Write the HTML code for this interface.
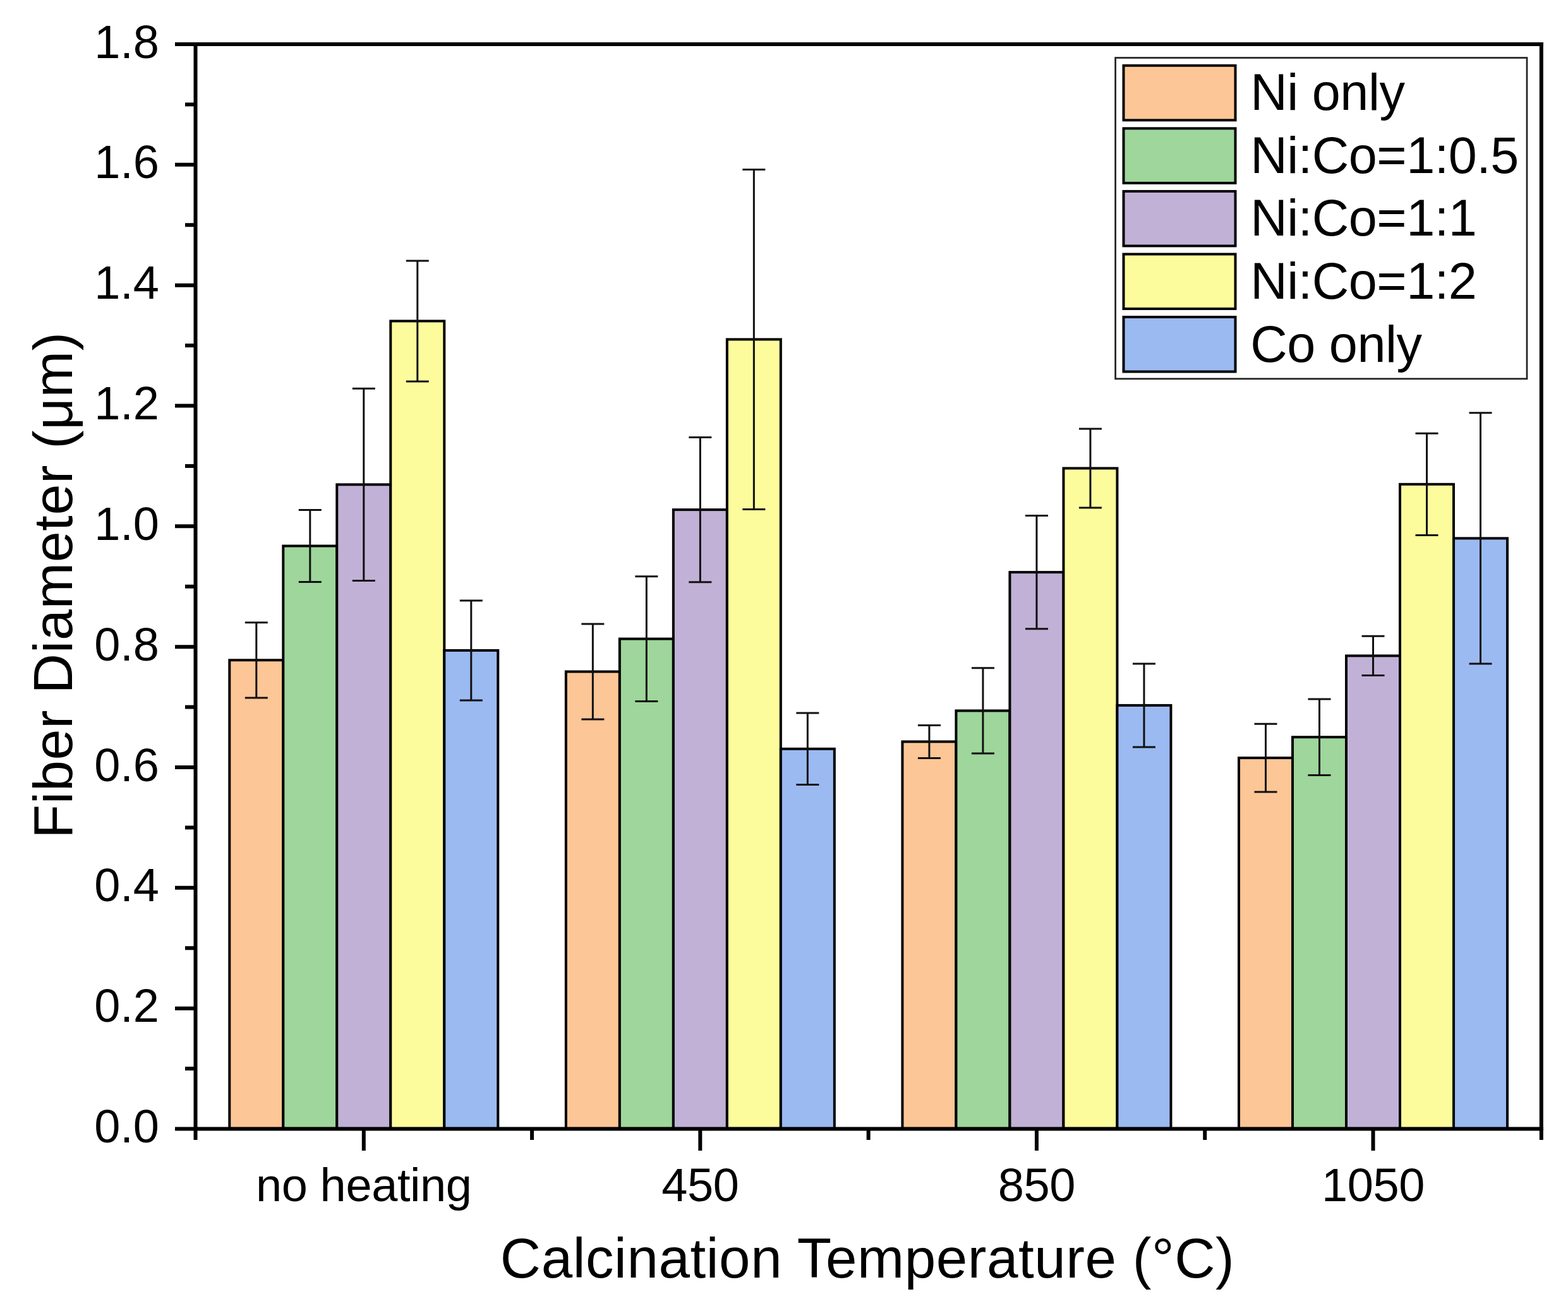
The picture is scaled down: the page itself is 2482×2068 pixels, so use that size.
<!DOCTYPE html>
<html><head><meta charset="utf-8"><title>Fiber Diameter vs Calcination Temperature</title>
<style>html,body{margin:0;padding:0;background:#fff;}body{width:2482px;height:2068px;overflow:hidden;}svg{display:block;} text{font-family:'Liberation Sans', Arial, Helvetica, sans-serif;fill:#000;}</style>
</head><body>
<svg width="2482" height="2068" viewBox="0 0 2482 2068">
<rect x="0" y="0" width="2482" height="2068" fill="#fff"/>
<g id="bars">
<rect x="363.29" y="1045.30" width="85.00" height="742.20" fill="#FCC696" stroke="#000" stroke-width="4.0"/>
<rect x="448.29" y="864.50" width="85.00" height="923.00" fill="#9ED69B" stroke="#000" stroke-width="4.0"/>
<rect x="533.29" y="767.30" width="85.00" height="1020.20" fill="#C1B1D6" stroke="#000" stroke-width="4.0"/>
<rect x="618.29" y="508.40" width="85.00" height="1279.10" fill="#FDFC9D" stroke="#000" stroke-width="4.0"/>
<rect x="703.29" y="1029.90" width="85.00" height="757.60" fill="#9BBAF1" stroke="#000" stroke-width="4.0"/>
<rect x="895.86" y="1063.50" width="85.00" height="724.00" fill="#FCC696" stroke="#000" stroke-width="4.0"/>
<rect x="980.86" y="1011.60" width="85.00" height="775.90" fill="#9ED69B" stroke="#000" stroke-width="4.0"/>
<rect x="1065.86" y="807.10" width="85.00" height="980.40" fill="#C1B1D6" stroke="#000" stroke-width="4.0"/>
<rect x="1150.86" y="537.40" width="85.00" height="1250.10" fill="#FDFC9D" stroke="#000" stroke-width="4.0"/>
<rect x="1235.86" y="1185.80" width="85.00" height="601.70" fill="#9BBAF1" stroke="#000" stroke-width="4.0"/>
<rect x="1428.44" y="1174.40" width="85.00" height="613.10" fill="#FCC696" stroke="#000" stroke-width="4.0"/>
<rect x="1513.44" y="1125.40" width="85.00" height="662.10" fill="#9ED69B" stroke="#000" stroke-width="4.0"/>
<rect x="1598.44" y="906.10" width="85.00" height="881.40" fill="#C1B1D6" stroke="#000" stroke-width="4.0"/>
<rect x="1683.44" y="741.50" width="85.00" height="1046.00" fill="#FDFC9D" stroke="#000" stroke-width="4.0"/>
<rect x="1768.44" y="1116.90" width="85.00" height="670.60" fill="#9BBAF1" stroke="#000" stroke-width="4.0"/>
<rect x="1961.01" y="1200.10" width="85.00" height="587.40" fill="#FCC696" stroke="#000" stroke-width="4.0"/>
<rect x="2046.01" y="1167.20" width="85.00" height="620.30" fill="#9ED69B" stroke="#000" stroke-width="4.0"/>
<rect x="2131.01" y="1038.40" width="85.00" height="749.10" fill="#C1B1D6" stroke="#000" stroke-width="4.0"/>
<rect x="2216.01" y="766.80" width="85.00" height="1020.70" fill="#FDFC9D" stroke="#000" stroke-width="4.0"/>
<rect x="2301.01" y="852.40" width="85.00" height="935.10" fill="#9BBAF1" stroke="#000" stroke-width="4.0"/>
</g>
<g id="err" stroke="#111" stroke-width="3.0" fill="none">
<path d="M405.79 985.65V1104.95M387.79 985.65H423.79M387.79 1104.95H423.79"/>
<path d="M490.79 807.45V921.55M472.79 807.45H508.79M472.79 921.55H508.79"/>
<path d="M575.79 615.15V919.45M557.79 615.15H593.79M557.79 919.45H593.79"/>
<path d="M660.79 412.90V603.90M642.79 412.90H678.79M642.79 603.90H678.79"/>
<path d="M745.79 950.90V1108.90M727.79 950.90H763.79M727.79 1108.90H763.79"/>
<path d="M938.36 988.10V1138.90M920.36 988.10H956.36M920.36 1138.90H956.36"/>
<path d="M1023.36 912.80V1110.40M1005.36 912.80H1041.36M1005.36 1110.40H1041.36"/>
<path d="M1108.36 692.40V921.80M1090.36 692.40H1126.36M1090.36 921.80H1126.36"/>
<path d="M1193.36 268.40V806.40M1175.36 268.40H1211.36M1175.36 806.40H1211.36"/>
<path d="M1278.36 1129.10V1242.50M1260.36 1129.10H1296.36M1260.36 1242.50H1296.36"/>
<path d="M1470.94 1148.40V1200.40M1452.94 1148.40H1488.94M1452.94 1200.40H1488.94"/>
<path d="M1555.94 1057.75V1193.05M1537.94 1057.75H1573.94M1537.94 1193.05H1573.94"/>
<path d="M1640.94 816.45V995.75M1622.94 816.45H1658.94M1622.94 995.75H1658.94"/>
<path d="M1725.94 678.95V804.05M1707.94 678.95H1743.94M1707.94 804.05H1743.94"/>
<path d="M1810.94 1050.90V1182.90M1792.94 1050.90H1828.94M1792.94 1182.90H1828.94"/>
<path d="M2003.51 1146.30V1253.90M1985.51 1146.30H2021.51M1985.51 1253.90H2021.51"/>
<path d="M2088.51 1107.00V1227.40M2070.51 1107.00H2106.51M2070.51 1227.40H2106.51"/>
<path d="M2173.51 1007.30V1069.50M2155.51 1007.30H2191.51M2155.51 1069.50H2191.51"/>
<path d="M2258.51 686.15V847.45M2240.51 686.15H2276.51M2240.51 847.45H2276.51"/>
<path d="M2343.51 653.70V1051.10M2325.51 653.70H2361.51M2325.51 1051.10H2361.51"/>
</g>
<g id="axes" stroke="#000" stroke-width="6.0" fill="none" stroke-linecap="butt">
<path d="M309.5 67.0V1790.5"/>
<path d="M2439.8 67.0V1790.5"/>
<path d="M306.5 70.0H2442.8"/>
<path d="M306.5 1787.5H2442.8"/>
<path d="M309.5 1787.50H277"/>
<path d="M309.5 1692.08H293"/>
<path d="M309.5 1596.67H277"/>
<path d="M309.5 1501.25H293"/>
<path d="M309.5 1405.83H277"/>
<path d="M309.5 1310.42H293"/>
<path d="M309.5 1215.00H277"/>
<path d="M309.5 1119.58H293"/>
<path d="M309.5 1024.17H277"/>
<path d="M309.5 928.75H293"/>
<path d="M309.5 833.33H277"/>
<path d="M309.5 737.92H293"/>
<path d="M309.5 642.50H277"/>
<path d="M309.5 547.08H293"/>
<path d="M309.5 451.67H277"/>
<path d="M309.5 356.25H293"/>
<path d="M309.5 260.83H277"/>
<path d="M309.5 165.42H293"/>
<path d="M309.5 70.00H277"/>
<path d="M575.79 1787.5V1822"/>
<path d="M1108.36 1787.5V1822"/>
<path d="M1640.94 1787.5V1822"/>
<path d="M2173.51 1787.5V1822"/>
<path d="M309.50 1787.5V1805"/>
<path d="M842.08 1787.5V1805"/>
<path d="M1374.65 1787.5V1805"/>
<path d="M1907.23 1787.5V1805"/>
<path d="M2439.80 1787.5V1805"/>
</g>
<g id="ylabels" font-size="74" text-anchor="end">
<text x="252" y="1809.00">0.0</text>
<text x="252" y="1618.17">0.2</text>
<text x="252" y="1427.33">0.4</text>
<text x="252" y="1236.50">0.6</text>
<text x="252" y="1045.67">0.8</text>
<text x="252" y="854.83">1.0</text>
<text x="252" y="664.00">1.2</text>
<text x="252" y="473.17">1.4</text>
<text x="252" y="282.33">1.6</text>
<text x="252" y="91.50">1.8</text>
</g>
<g id="xlabels" font-size="74" letter-spacing="-0.4" text-anchor="middle">
<text x="575.79" y="1902">no heating</text>
<text x="1108.36" y="1902">450</text>
<text x="1640.94" y="1902">850</text>
<text x="2173.51" y="1902">1050</text>
</g>
<text x="1373" y="2023" font-size="89" letter-spacing="0.55" text-anchor="middle">Calcination Temperature (°C)</text>
<text transform="translate(113.7 926.5) rotate(-90)" x="0" y="0" font-size="88" letter-spacing="0.72" text-anchor="middle">Fiber Diameter (μm)</text>
<g id="legend">
<rect x="1765.6" y="91.5" width="651.4" height="508.3" fill="#fff" stroke="#222" stroke-width="2.7"/>
<rect x="1778.5" y="103.80" width="177" height="86.5" fill="#FCC696" stroke="#000" stroke-width="4.0"/>
<text x="1979.3" y="174.30" font-size="81" letter-spacing="-0.5">Ni only</text>
<rect x="1778.5" y="203.35" width="177" height="86.5" fill="#9ED69B" stroke="#000" stroke-width="4.0"/>
<text x="1979.3" y="273.85" font-size="81" letter-spacing="-0.5">Ni:Co=1:0.5</text>
<rect x="1778.5" y="302.90" width="177" height="86.5" fill="#C1B1D6" stroke="#000" stroke-width="4.0"/>
<text x="1979.3" y="373.40" font-size="81" letter-spacing="-0.5">Ni:Co=1:1</text>
<rect x="1778.5" y="402.45" width="177" height="86.5" fill="#FDFC9D" stroke="#000" stroke-width="4.0"/>
<text x="1979.3" y="472.95" font-size="81" letter-spacing="-0.5">Ni:Co=1:2</text>
<rect x="1778.5" y="502.00" width="177" height="86.5" fill="#9BBAF1" stroke="#000" stroke-width="4.0"/>
<text x="1979.3" y="572.50" font-size="81" letter-spacing="-0.5">Co only</text>
</g>
</svg>
</body></html>
